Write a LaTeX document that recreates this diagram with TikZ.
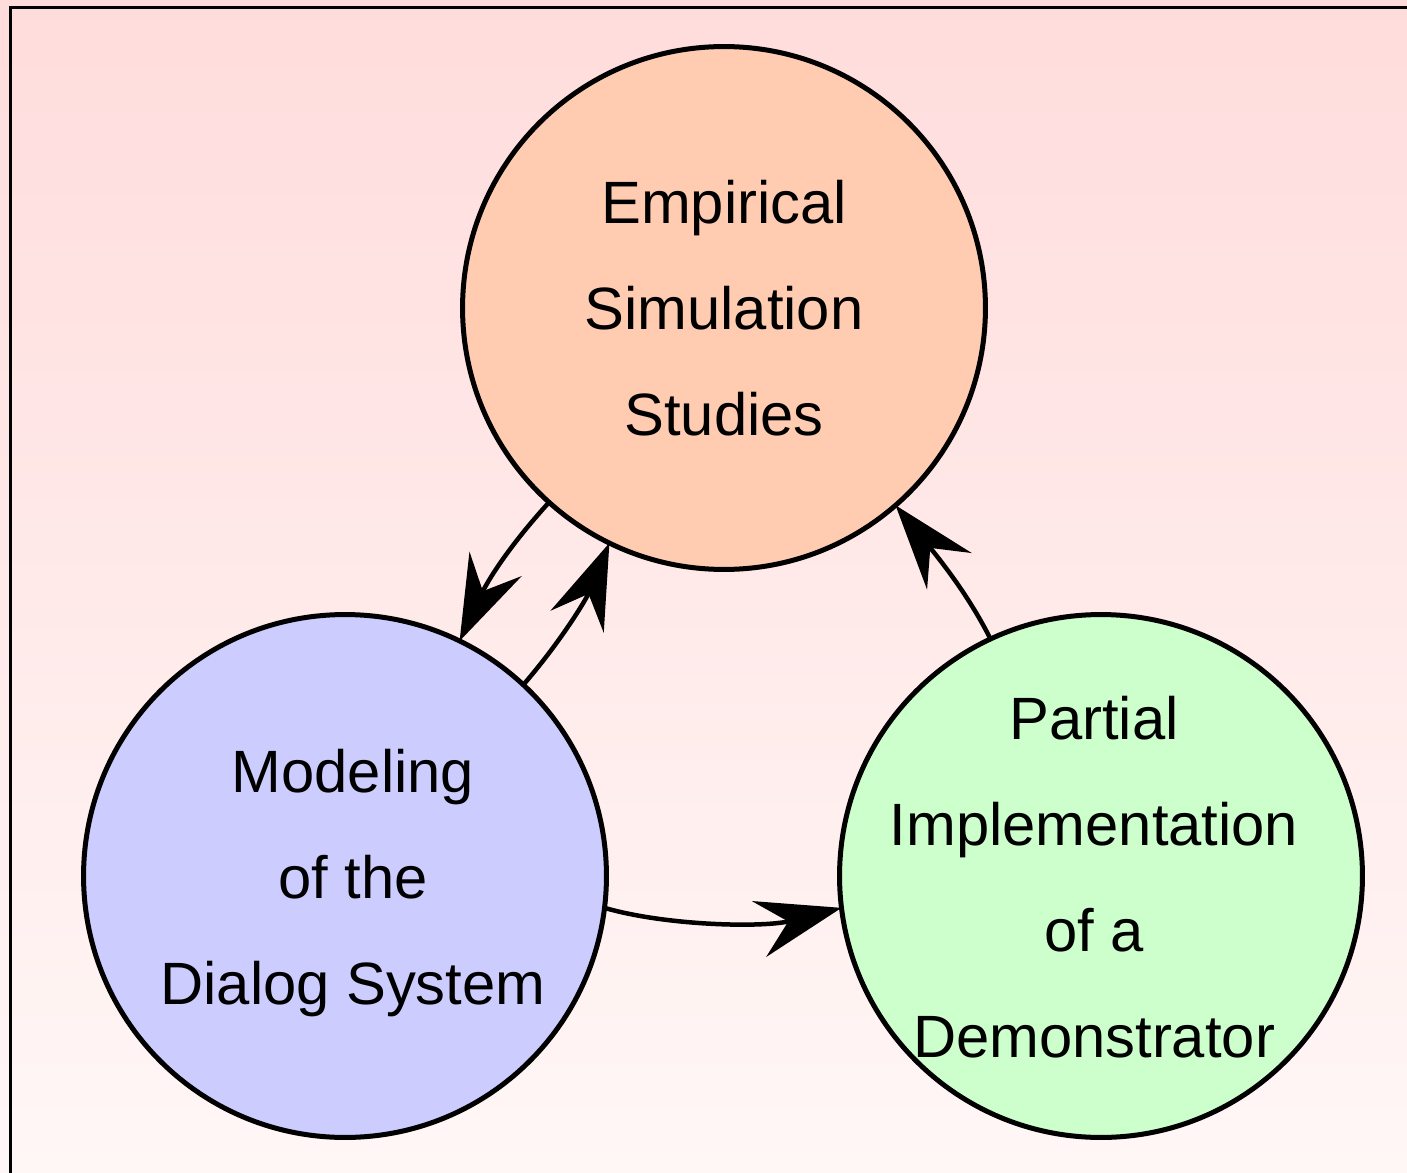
\documentclass[tikz,border=0pt]{standalone}
\usepackage{fontspec}
\setmainfont{Liberation Sans}
\usetikzlibrary{arrows.meta}
\definecolor{bgtop}{RGB}{255,220,220}
\definecolor{bgbot}{RGB}{255,247,246}
\definecolor{peach}{RGB}{255,204,178}
\definecolor{lavender}{RGB}{204,204,255}
\definecolor{mint}{RGB}{204,255,204}
\tikzset{
  bubble/.style={circle, draw=black, line width=0.1cm, minimum size=10.46cm, inner sep=0pt, outer sep=0pt},
  label text/.style={align=center, font=\fontsize{34}{60.3}\selectfont, inner sep=0pt},
  conn/.style={line width=0.09cm, -{Stealth[length=1.7cm,width=1.15cm,inset=0.6cm]}}
}
\begin{document}
\begin{tikzpicture}[x=0.02cm,y=-0.02cm]
\useasboundingbox (0,0) rectangle (1407,1173);
\shade[top color=bgtop, bottom color=bgbot] (0,0) rectangle (1407,1173);
\draw[line width=0.06cm] (10.5,1200) -- (10.5,7.5) -- (1430,7.5);
\node[bubble, fill=peach] (emp) at (724,308) {};
\node[bubble, fill=lavender] (mod) at (345,876) {};
\node[bubble, fill=mint] (par) at (1101,876) {};
\node[label text] (empt) at (724,308) {Empirical\\Simulation\\Studies};
\node[label text] (modt) at (353,883) {Modeling\\of the\\Dialog System};
\node[label text] (part) at (1094,877) {Partial\\Implementation\\of a\\Demonstrator};
\draw[conn] (emp.228.3) .. controls +(-41,45) and +(28,-60) .. (mod.64.5);
\draw[conn] (mod.47.9) .. controls +(38,-44) and +(-23,56) .. (emp.244.3);
\draw[conn] (par.115.4) .. controls +(-20,-40) and +(49,60) .. (emp.311.5);
\draw[conn] (mod.-7.8) .. controls +(62,18) and +(-78,20) .. (par.187.8);
\end{tikzpicture}
\end{document}
